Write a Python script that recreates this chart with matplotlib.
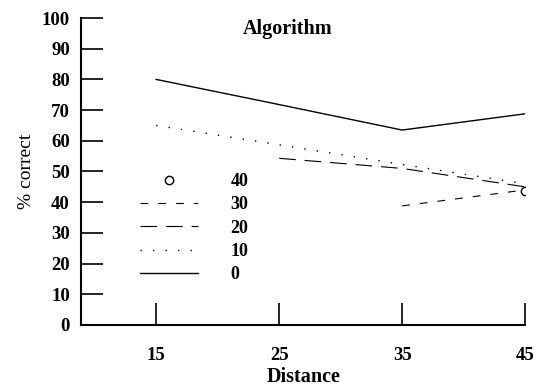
import matplotlib.pyplot as plt

plt.rcParams['font.family'] = ['Liberation Serif', 'DejaVu Serif']

distance = [15, 25, 35, 45]
alg0 = [80, 71.8, 63.5, 68.8]
alg10 = [65, 58.7, 52.3, 46]
alg20_x = [25, 35, 45]
alg20 = [54.3, 51, 45]
alg30_x = [35, 45]
alg30 = [38.8, 44]
alg40_x = [45]
alg40 = [43.5]

fig = plt.figure(figsize=(5.37, 3.88), dpi=100)
ax = fig.add_axes([0.151, 0.1624, 0.827, 0.7912])

ax.plot(alg40_x, alg40, linestyle="none", marker="o", markersize=6,
        markerfacecolor="white", markeredgecolor="black", markeredgewidth=1, label="40", zorder=3)
ax.plot(alg30_x, alg30, color="black", lw=0.8, dashes=(7, 9), label="30")
ax.plot(alg20_x, alg20, color="black", lw=0.8, dashes=(15, 8), label="20")
ax.plot(distance, alg10, color="black", lw=1.0, dashes=(1, 8), label="10")
ax.plot(distance, alg0, color="black", lw=1.0, label="0")

ax.set_xlim(8.9, 45)
ax.set_ylim(0, 100)
ax.set_xticks(distance)
ax.set_yticks(range(0, 101, 10))
ax.spines['top'].set_visible(False)
ax.spines['right'].set_visible(False)
ax.spines['left'].set_linewidth(1.5)
ax.spines['bottom'].set_linewidth(1.5)
ax.tick_params(direction="in", length=16, width=1.2, labelsize=13.5)
ax.tick_params(axis="x", pad=16)
ax.tick_params(axis="y", pad=8)
for lab in ax.get_xticklabels() + ax.get_yticklabels():
    lab.set_fontweight("bold")

ax.set_xlabel("Distance", fontsize=14.5, fontweight="bold", labelpad=2)
ax.set_ylabel("% correct", fontsize=14, labelpad=5)
ax.text(0.465, 0.998, "Algorithm", transform=ax.transAxes, ha="center", va="top",
        fontsize=14.5, fontweight="bold")

leg = ax.legend(loc="upper left", bbox_to_anchor=(0.133, 0.495), frameon=False,
                borderaxespad=0, borderpad=0,
                handlelength=3.2, handletextpad=1.8, labelspacing=0.35, fontsize=13)
for t in leg.get_texts():
    t.set_fontweight("bold")

plt.savefig("out.png", dpi=100)
